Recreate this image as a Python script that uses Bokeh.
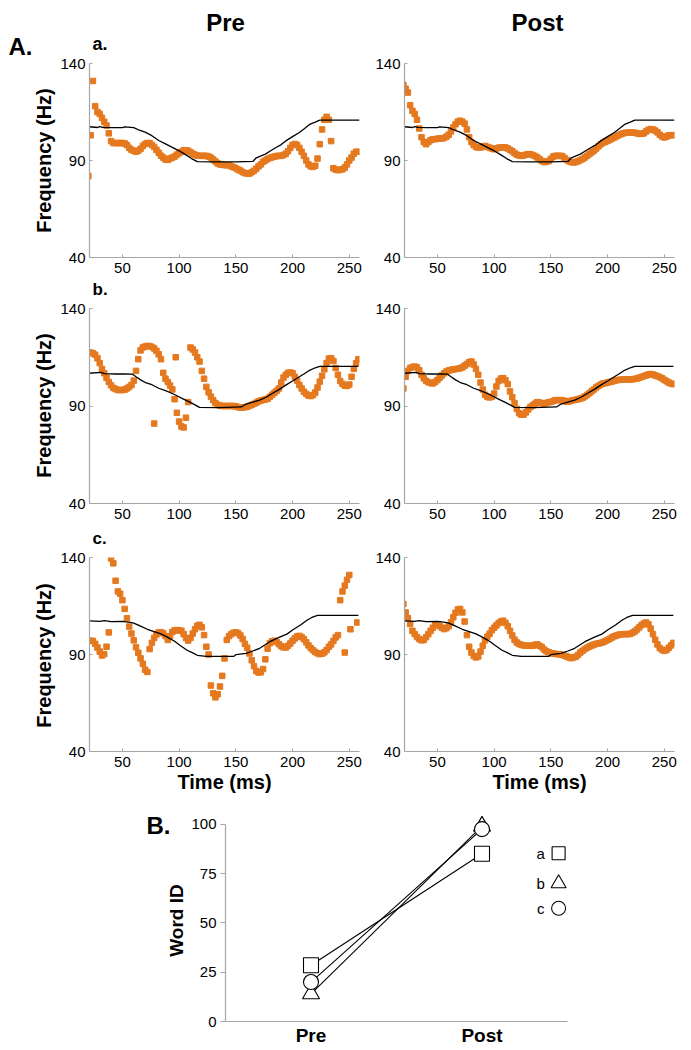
import math
from bokeh.plotting import figure
from bokeh.layouts import column, row
from bokeh.models import FixedTicker, Range1d
from bokeh.embed import file_html
from bokeh.resources import INLINE
from bokeh.core.properties import value

NaN = float("nan")

# ---------------- data ----------------
TIME = list(range(20, 260, 2))  # ms

pre_a = [82, 103, 131, 118, 115, 114, 112, 110, 108, 104,
         100, 99, 99, 99, 99, 99, 98.8, 98, 96.5, 95.5,
         95, 94.5, 95, 96, 97.5, 98.5, 99, 99, 98, 97,
         95.5, 94, 92.5, 91.5, 90.5, 90.3, 91, 91.5, 92, 93,
         93.8, 94.5, 95.2, 95.3, 95, 94.3, 93.5, 93, 92.5, 92.4,
         92.4, 92.4, 92.4, 92, 91.5, 90.5, 89.5, 88.5, 88, 87.8,
         87.6, 87.6, 87.5, 87, 86.5, 86, 85.3, 84.8, 84, 83.5,
         83.3, 83.3, 84, 84.7, 85.8, 87, 88, 89.3, 90, 90.8,
         91.3, 91.7, 92, 92.3, 92.4, 92.4, 92.8, 93.5, 94.8, 96.5,
         98, 98.5, 98, 96.5, 94.5, 92.4, 90, 88, 87, 86.7,
         87.3, 91, 98.4, 106, 111, 112.5, 111, 100, 86, 85.3,
         85, 85.2, 85.5, 86.4, 88, 90, 91.5, 93.5, 94.5, 94.5]

post_a = [129, 127, 125, 118.5, 115.6, 114, 111, 106.5, 102, 99.5,
          98.4, 99.5, 100.5, 101, 101, 101.2, 101.3, 101.4, 101.6, 102.3,
          103.3, 105, 107, 108.7, 110, 110.5, 110, 109, 106, 102,
          99.5, 98, 97, 96.7, 96.7, 97.3, 97.5, 97, 96.6, 96.2,
          95.8, 96.2, 96.6, 96.7, 96.8, 96.7, 96.2, 95.5, 94.8, 93.8,
          93, 92.6, 92.4, 92.6, 93, 93.3, 93.2, 92.8, 92.3, 91.6,
          90.8, 89.8, 89.2, 89.3, 89.7, 90.8, 92, 92.4, 92.4, 92.4,
          92.3, 91.3, 90.3, 89.6, 89.2, 89, 89.2, 89.6, 90.2, 90.8,
          91.6, 92.4, 93.3, 94.2, 95, 96.2, 97.3, 98.4, 99.1, 99.6,
          100.1, 100.7, 101.3, 101.9, 102.5, 103.1, 103.6, 104, 104.3, 104.4,
          104.4, 104.4, 104.3, 104, 103.7, 103.8, 104, 105, 105.8, 106.2,
          106, 105.4, 104.5, 103.3, 102.4, 101.9, 102.3, 103, 103.1, 103]

pre_b = [117.5, 117.4, 117, 116.3, 114.5, 112, 109, 106.8, 104.5, 102.3,
         100.6, 99.3, 98.7, 98.2, 98.2, 98.2, 98.4, 99, 99.8, 100.8,
         103, 108, 114, 118.5, 120, 120.5, 120.8, 120.7, 120.3, 119.5,
         118.3, 116.5, 114, 107, 104, 102.3, 100.5, 98.5, 93.5, 86.5,
         82, 79.5, 79, 84, 92, 120, 119, 117.4, 115, 112.8,
         108, 104, 99.8, 97, 94.8, 93, 91.5, 90.6, 90.2, 90,
         90, 90, 90, 90, 90, 89.8, 89.4, 89.2, 89.2, 89.4,
         89.6, 90.1, 90.6, 91.1, 91.7, 92.4, 92.8, 93.1, 93.3, 93.7,
         94.7, 95.8, 96.8, 97.8, 99, 102, 104.6, 106, 107, 107.2,
         106.8, 105, 103, 100.8, 99, 97.3, 96.2, 95.4, 95.1, 95.6,
         96.9, 99.5, 102.5, 105.5, 108.8, 112, 114.3, 114.5, 113.1, 109.5,
         106, 102.8, 101.3, 100.4, 100.3, 101, 105, 109, 112, 114]
pre_b_stray_t = [78, 97]
pre_b_stray_f = [81, 115]

post_b = [99, 105, 108, 109.5, 110, 110.2, 109.8, 108.3, 106, 104.2,
          102.9, 102.2, 101.8, 101.6, 102.3, 103.3, 104.5, 105.7, 106.8, 107.7,
          108.2, 108.5, 108.8, 108.9, 109.1, 109.3, 109.8, 110.7, 111.5, 112.5,
          112.8, 111.3, 109, 106, 102, 98.5, 95.8, 94.7, 94.4, 94.8,
          96.4, 100, 102.8, 104.1, 104.3, 103.2, 101.2, 97.5, 94.5, 91.5,
          88.5, 86.3, 85.5, 85.6, 86.7, 88.2, 89.5, 90.3, 91.2, 92,
          91.8, 91.4, 91.2, 91.5, 91.9, 92.1, 92.5, 93, 93, 93,
          93, 92.6, 92.2, 92.3, 92.7, 93, 93.2, 93.5, 93.8, 94.2,
          94.9, 95.7, 96.6, 97.6, 98.5, 99.5, 100.3, 101, 101.5, 101.7,
          102, 102.3, 102.6, 102.9, 103.2, 103.4, 103.5, 103.6, 103.6, 103.6,
          103.6, 103.7, 103.9, 104.1, 104.5, 104.9, 105.3, 105.7, 106.1, 106.4,
          106.1, 105.7, 105.3, 104.8, 104.2, 103.4, 102.7, 102, 101.5, 101.2]

pre_c = [97, 97.1, 97, 95.5, 93.6, 91.5, 89.5, 90.2, 94, 101.4,
         139.5, 137, 128, 122.5, 121.3, 118, 113.5, 108.7, 104.4, 100.8,
         97.3, 93.8, 90.9, 88, 85.2, 82.2, 81, 92.8, 96, 98.5,
         100.3, 101.4, 101.5, 100.9, 99.5, 97.5, 99.5, 101.6, 102.4, 102.6,
         102.5, 102.2, 100.5, 98.5, 97.2, 98.5, 100.8, 103, 104.8, 105.3,
         104, 100, 94, 90, 74, 70, 67.9, 69.5, 73.5, 79,
         88, 97.5, 99.5, 100.5, 101.2, 101.4, 101, 99.8, 98, 95.5,
         93.5, 90.5, 87, 84, 81.5, 80.7, 80.8, 82.5, 87.5, 93,
         95.8, 96.8, 97.1, 96.4, 95.3, 94.3, 93.7, 93.6, 94.5, 95.7,
         97.1, 98.3, 99.3, 99.6, 99, 97.9, 96.3, 94.7, 93.3, 92.2,
         91.3, 90.6, 90.2, 90.4, 91.1, 92.3, 94, 95.2, 97, 98.8,
         100, 118, 122.5, 125.5, 128.5, 131, NaN, NaN, NaN, NaN]
pre_c_stray_t = [246, 251, 257]
pre_c_stray_f = [91, 103, 106.5]

post_c = [116, 111.7, 108.8, 105.7, 102.2, 100.5, 99, 98, 97.3, 97.5,
          98.9, 100.5, 102.2, 103.8, 105.4, 105.5, 104.6, 103.8, 103.1, 103.6,
          104.6, 106.6, 109.2, 111.5, 113.2, 113.5, 111.7, 107, 100, 94,
          91, 89.3, 88.5, 89, 91.5, 94.5, 97.3, 99.2, 100.7, 102.5,
          103.8, 105, 106.2, 107, 107.4, 106.3, 104.6, 102.2, 99.8, 97.6,
          96.2, 95.4, 95, 94.7, 94.5, 94.5, 94.5, 94.5, 95, 95.2,
          94.5, 93.8, 92.6, 91.7, 91.2, 90.7, 90.5, 90.3, 90.2, 90.1,
          89.8, 89.4, 89, 88.5, 88.1, 88.5, 88.8, 89.8, 91, 91.9,
          92.8, 93.5, 94.1, 94.6, 95.1, 95.5, 95.7, 96, 96.3, 96.9,
          97.5, 98.1, 98.8, 99.4, 99.8, 100.2, 100.4, 100.5, 100.5, 100.5,
          100.6, 101.2, 101.9, 102.9, 104, 105.2, 106, 106.5, 105.5, 103.3,
          100.5, 97.6, 95.2, 93.3, 92.4, 91.9, 92.3, 93.5, 94.7, 96]

# target (stimulus) contours, one per word
target_a_t = [21, 28, 30, 33, 40, 50, 52, 60, 65, 70, 76, 82, 88, 94, 100, 106, 111, 116, 130, 150,
              165, 168, 176, 180, 185, 190, 194, 200, 206, 210, 215, 220, 224, 259]
target_a_f = [107.4, 107.0, 107.5, 107.1, 106.9, 106.9, 107.3, 106.9, 105.6, 104.6, 102.8, 100.3, 98.6,
              96.8, 95.0, 92.9, 91.0, 89.4, 89.3, 89.3, 89.5, 91.4, 93.3, 94.8, 96.6, 98.2, 100.1, 102.3,
              104.4, 106.2, 108.6, 109.8, 110.8, 110.8]
target_b_t = [21, 31, 34, 44, 52, 59, 62, 66, 71, 76, 82, 88, 94, 99, 103, 108, 112, 118, 135, 155,
              159, 165, 171, 177, 182, 188, 194, 200, 206, 210, 215, 220, 224, 258]
target_b_f = [106.8, 107.2, 106.6, 106.4, 106.5, 106.3, 105.0, 103.4, 101.8, 100.9, 99.1, 97.9, 96.4,
              95.0, 93.8, 92.4, 91.2, 89.3, 89.2, 89.5, 91.0, 92.0, 93.0, 94.6, 96.4, 98.4, 100.7, 102.8,
              105.0, 106.4, 108.3, 109.6, 110.3, 110.3]
target_c_t = [21, 30, 34, 40, 50, 57, 60, 66, 72, 78, 84, 90, 96, 101, 107, 112, 116, 124, 148, 150,
              159, 165, 171, 180, 188, 195, 200, 207, 213, 217, 222, 258]
target_c_f = [107.3, 107.1, 107.5, 106.9, 107.1, 106.6, 106.2, 104.6, 103.0, 101.8, 100.6, 98.8, 96.8,
              94.6, 92.2, 90.8, 89.6, 89.0, 89.0, 89.9, 90.6, 91.8, 93.2, 96.6, 98.8, 100.5, 102.6, 105.2,
              107.8, 109.1, 110.2, 110.2]

time_ticks = [50, 100, 150, 200, 250]
freq_ticks = [40, 90, 140]

# panel B
session_x = [1, 2]
session_labels = {1: "Pre", 2: "Post"}
word_id_a = [28.5, 85]
word_id_b = [14, 99]
word_id_c = [20, 97.5]
wid_ticks = [0, 25, 50, 75, 100]
legend_names = ["a", "b", "c"]
legend_rows = [85.3, 70, 57.4]

FONT = "Liberation Sans"
ORANGE = "#e5791f"
GRAY = "#a6a6a6"


def style_axes(p, xticks, yticks, xlab=None):
    p.grid.visible = False
    p.outline_line_color = None
    for ax in (p.xaxis[0], p.yaxis[0]):
        ax.axis_line_color = GRAY
        ax.axis_line_width = 1.2
        ax.major_tick_line_color = GRAY
        ax.minor_tick_line_color = None
        ax.major_tick_in = 3
        ax.major_tick_out = 0
        ax.major_label_text_font = FONT
        ax.major_label_text_font_size = "15px"
        ax.major_label_text_color = "black"
        ax.axis_label_text_font = FONT
        ax.axis_label_text_font_style = "bold"
        ax.axis_label_text_font_size = "20px"
        ax.axis_label_text_color = "black"
    p.xaxis.ticker = FixedTicker(ticks=xticks)
    p.yaxis.ticker = FixedTicker(ticks=yticks)
    p.xaxis.major_label_standoff = 5
    p.yaxis.major_label_standoff = 4
    if xlab:
        p.xaxis.axis_label = xlab
        p.xaxis.axis_label_standoff = 1


def freq_panel(width, height, top, bottom, pitch, tt, tf, stray=None, xlab=None):
    p = figure(width=width, height=height, x_range=Range1d(21, 259), y_range=Range1d(40, 140),
               output_backend="svg", toolbar_location=None,
               min_border_left=30, min_border_right=width - 30 - 272,
               min_border_top=top, min_border_bottom=bottom)
    p.background_fill_color = "white"
    p.border_fill_color = "white"
    p.scatter(TIME, pitch, marker="square", size=5.5, fill_color=ORANGE, line_color=ORANGE)
    if stray is not None:
        p.scatter(stray[0], stray[1], marker="square", size=5.5, fill_color=ORANGE, line_color=ORANGE)
    p.line(tt, tf, line_color="black", line_width=1.3)
    style_axes(p, time_ticks, freq_ticks, xlab)
    return p


def strip(width, height, texts, top=0, bottom=0):
    """Blank canvas (pixel coordinates of its frame, y downward) carrying headings / letters."""
    fh = height - top - bottom
    s = figure(width=width, height=height, x_range=Range1d(0, width), y_range=Range1d(fh, 0),
               x_axis_type=None, y_axis_type=None, toolbar_location=None, output_backend="svg",
               min_border=0, min_border_left=0, min_border_right=0,
               min_border_top=top, min_border_bottom=bottom)
    s.outline_line_color = None
    s.grid.visible = False
    s.background_fill_color = "white"
    s.border_fill_color = "white"
    for (x, y, t, size, align, angle) in texts:
        s.text([x], [y], text=[t], text_font=value(FONT), text_font_size=size,
               text_font_style="bold", text_align=align, text_baseline="middle",
               angle=angle, text_color="black")
    return s


LEFT_W = 57          # left strip: "A." and the y-axis titles
PRE_W = 315          # 57 -> 372
POST_W = 311         # 372 -> 683
RIGHT_W = PRE_W + POST_W

HEAD_H, ROW_A_H, GAP_B_H, ROW_B_H, GAP_C_H, ROW_C_H = 54, 225, 20, 226, 23, 249
A_SECTION_H = HEAD_H + ROW_A_H + GAP_B_H + ROW_B_H + GAP_C_H + ROW_C_H

up = math.pi / 2
left_strip = strip(LEFT_W, A_SECTION_H, [(8, 46, "A.", "24px", "left", 0),
                                         (43, 160, "Frequency (Hz)", "20px", "center", up),
                                         (43, 405, "Frequency (Hz)", "20px", "center", up),
                                         (43, 655, "Frequency (Hz)", "20px", "center", up)])

header = strip(RIGHT_W, HEAD_H, [(35, 43, "a.", "18px", "left", 0),
                                 (168, 22, "Pre", "24px", "center", 0),
                                 (480, 22, "Post", "24px", "center", 0)])
pa = freq_panel(PRE_W, ROW_A_H, 9, 22, pre_a, target_a_t, target_a_f)
qa = freq_panel(POST_W, ROW_A_H, 9, 22, post_a, target_a_t, target_a_f)

strip_b = strip(RIGHT_W, GAP_B_H, [(35, 10, "b.", "17px", "left", 0)])
pb = freq_panel(PRE_W, ROW_B_H, 9, 22, pre_b, target_b_t, target_b_f, stray=(pre_b_stray_t, pre_b_stray_f))
qb = freq_panel(POST_W, ROW_B_H, 9, 22, post_b, target_b_t, target_b_f)

strip_c = strip(RIGHT_W, GAP_C_H, [(35, 13, "c.", "17px", "left", 0)])
pc = freq_panel(PRE_W, ROW_C_H, 9, 46, pre_c, target_c_t, target_c_f,
                stray=(pre_c_stray_t, pre_c_stray_f), xlab="Time (ms)")
qc = freq_panel(POST_W, ROW_C_H, 9, 46, post_c, target_c_t, target_c_f, xlab="Time (ms)")

right_col = column(header, row(pa, qa), strip_b, row(pb, qb), strip_c, row(pc, qc))
section_a = row(left_strip, right_col)

# ---------------- panel B ----------------
B_H, B_TOP, B_BOTTOM = 251, 7, 27
strip_B = strip(188, B_H, [(146, 21, "B.", "24px", "left", 0),
                           (176, 116, "Word ID", "19px", "center", up)], top=B_TOP, bottom=B_BOTTOM)

pB = figure(width=495, height=B_H, x_range=Range1d(0.5, 2.5), y_range=Range1d(0, 110),
            output_backend="svg", toolbar_location=None,
            min_border_left=35, min_border_right=116, min_border_top=B_TOP, min_border_bottom=B_BOTTOM)
pB.background_fill_color = "white"
pB.border_fill_color = "white"
for vals in (word_id_a, word_id_b, word_id_c):
    pB.line(session_x, vals, line_color="black", line_width=1.1)
mk = dict(fill_color="white", line_color="black", line_width=1.1)
pB.scatter(session_x, word_id_a, marker="square", size=15, **mk)
pB.scatter(session_x, word_id_b, marker="triangle", size=17, **mk)
pB.scatter(session_x, word_id_c, marker="circle", size=15, **mk)

# legend (label on the left of its symbol)
pB.text([2.343] * 3, legend_rows, text=legend_names, text_font=value(FONT), text_font_size="15px",
        text_align="center", text_baseline="middle", text_color="black")
pB.scatter([2.448], [legend_rows[0]], marker="square", size=13, **mk)
pB.scatter([2.448], [legend_rows[1]], marker="triangle", size=15, **mk)
pB.scatter([2.448], [legend_rows[2]], marker="circle", size=14, **mk)

style_axes(pB, session_x, wid_ticks)
pB.xaxis.major_label_overrides = session_labels
pB.xaxis.major_tick_in = 0
pB.xaxis.major_tick_out = 0
pB.xaxis.major_label_standoff = 3
pB.xaxis.major_label_text_font_style = "bold"
pB.xaxis.major_label_text_font_size = "19px"
pB.yaxis.major_tick_in = 0
pB.yaxis.major_tick_out = 5
pB.yaxis.major_label_standoff = 4
pB.yaxis.bounds = (0, 100)

layout = column(section_a, row(strip_B, pB))
open("out.html", "w").write(file_html(layout, INLINE))
